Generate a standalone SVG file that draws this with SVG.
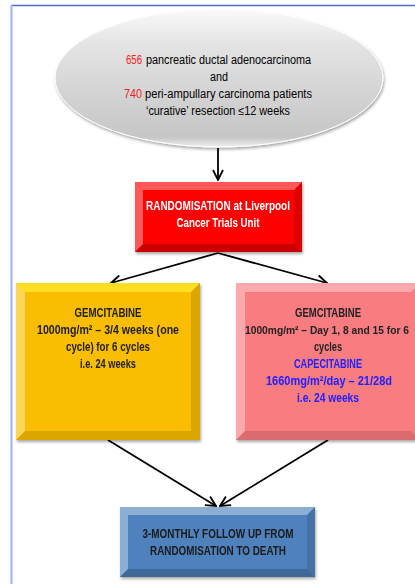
<svg xmlns="http://www.w3.org/2000/svg" width="415" height="584" viewBox="0 0 415 584">
<defs>
<linearGradient id="ellG" x1="0" y1="0" x2="0" y2="1">
<stop offset="0" stop-color="#fafafa"/>
<stop offset="0.25" stop-color="#e4e4e4"/>
<stop offset="0.6" stop-color="#d4d4d4"/>
<stop offset="0.93" stop-color="#c6c6c6"/>
<stop offset="1" stop-color="#f0f0f0"/>
</linearGradient>
<filter id="sh" x="-10%" y="-10%" width="130%" height="130%">
<feGaussianBlur in="SourceAlpha" stdDeviation="1.5"/>
<feOffset dx="1" dy="2"/>
<feComponentTransfer><feFuncA type="linear" slope="0.35"/></feComponentTransfer>
<feMerge><feMergeNode/><feMergeNode in="SourceGraphic"/></feMerge>
</filter>
<marker id="ah" viewBox="0 0 12 12" refX="11" refY="6" markerWidth="12" markerHeight="12" markerUnits="userSpaceOnUse" orient="auto">
<path d="M1,1 L11,6 L1,11" fill="none" stroke="#000" stroke-width="1.8"/>
</marker>
</defs>
<style>
.t{font-family:"Liberation Sans",Arial,sans-serif;font-size:12px;text-anchor:middle}
.s{text-anchor:start}
.r{fill:#f01c1c}
.b{font-weight:bold}
.c{stroke:#000;stroke-width:1.8;fill:none;marker-end:url(#ah)}
.lt{fill:#fff;opacity:0.35}
.dk{fill:#000;opacity:0.12}
.dk2{fill:#000;opacity:0.2}
</style>
<rect width="415" height="584" fill="#fff"/>
<g id="frame">
<line x1="11" y1="5.5" x2="415" y2="5.5" stroke="#4a6bd0" stroke-width="1.5"/>
<line x1="11.5" y1="5" x2="11.5" y2="584" stroke="#9db2f2" stroke-width="2"/>
</g>
<g id="connectors">
<line class="c" x1="218" y1="148" x2="218" y2="180"/>
<line class="c" x1="218" y1="253" x2="111" y2="283"/>
<line class="c" x1="218" y1="253" x2="327" y2="283"/>
<line class="c" x1="108" y1="440" x2="216" y2="506"/>
<line class="c" x1="328" y1="440" x2="220" y2="506"/>
</g>
<g id="n_patients">
<ellipse cx="219" cy="78" rx="164" ry="69" fill="url(#ellG)" stroke="#ffffff" stroke-width="1" filter="url(#sh)"/>
<text class="t s r" x="126" y="64" textLength="16" lengthAdjust="spacingAndGlyphs">656</text>
<text class="t s" x="146" y="64" textLength="165" lengthAdjust="spacingAndGlyphs">pancreatic ductal adenocarcinoma</text>
<text class="t" x="219" y="81" textLength="18" lengthAdjust="spacingAndGlyphs">and</text>
<text class="t s r" x="124" y="98" textLength="18" lengthAdjust="spacingAndGlyphs">740</text>
<text class="t s" x="145" y="98" textLength="167" lengthAdjust="spacingAndGlyphs">peri-ampullary carcinoma patients</text>
<text class="t" x="218" y="115" textLength="144" lengthAdjust="spacingAndGlyphs">‘curative’ resection ≤12 weeks</text>
</g>
<g id="n_random" filter="url(#sh)">
<rect x="135" y="182" width="167" height="70" fill="#fe0000"/>
<polygon class="lt" points="135,182 302,182 294,190 143,190"/>
<polygon class="lt" points="135,182 143,190 143,244 135,252"/>
<polygon class="dk" points="302,182 302,252 294,244 294,190"/>
<polygon class="dk2" points="135,252 302,252 294,244 143,244"/>
<text class="t b" x="218" y="210" fill="#fff" textLength="144" lengthAdjust="spacingAndGlyphs">RANDOMISATION at Liverpool</text>
<text class="t b" x="218" y="227" fill="#fff" textLength="83" lengthAdjust="spacingAndGlyphs">Cancer Trials Unit</text>
</g>
<g id="n_gem" filter="url(#sh)">
<rect x="16" y="283" width="184" height="157" fill="#fbbd00"/>
<polygon fill="#ffe62a" opacity="0.8" points="16,283 200,283 191,292 25,292"/>
<polygon class="lt" points="16,283 25,292 25,431 16,440"/>
<polygon class="dk" points="200,283 200,440 191,431 191,292"/>
<polygon class="dk" points="16,440 200,440 191,431 25,431"/>
<text class="t b" x="108" y="317" fill="#222" textLength="67" lengthAdjust="spacingAndGlyphs">GEMCITABINE</text>
<text class="t b" x="108" y="334" fill="#222" textLength="142" lengthAdjust="spacingAndGlyphs">1000mg/m² – 3/4 weeks (one</text>
<text class="t b" x="108" y="351" fill="#222" textLength="84" lengthAdjust="spacingAndGlyphs">cycle) for 6 cycles</text>
<text class="t b" x="108" y="368" fill="#222" textLength="56" lengthAdjust="spacingAndGlyphs">i.e. 24 weeks</text>
</g>
<g id="n_gemcap" filter="url(#sh)">
<rect x="236" y="283" width="184" height="157" fill="#f97b80"/>
<polygon class="lt" points="236,283 420,283 411,292 245,292"/>
<polygon class="lt" points="236,283 245,292 245,431 236,440"/>
<polygon class="dk" points="236,440 420,440 411,431 245,431"/>
<text class="t b" x="328" y="317" fill="#222" textLength="66" lengthAdjust="spacingAndGlyphs">GEMCITABINE</text>
<text class="t b" x="327" y="334" fill="#222" font-size="10.5" style="font-size:10.5px" textLength="164" lengthAdjust="spacingAndGlyphs">1000mg/m² – Day 1, 8 and 15 for 6</text>
<text class="t b" x="328" y="351" fill="#222" textLength="28" lengthAdjust="spacingAndGlyphs">cycles</text>
<text class="t b" x="328" y="368" fill="#2020ff" textLength="68" lengthAdjust="spacingAndGlyphs">CAPECITABINE</text>
<text class="t b" x="329" y="385" fill="#2020ff" textLength="126" lengthAdjust="spacingAndGlyphs">1660mg/m²/day – 21/28d</text>
<text class="t b" x="328" y="402" fill="#2020ff" textLength="62" lengthAdjust="spacingAndGlyphs">i.e. 24 weeks</text>
</g>
<g id="n_follow" filter="url(#sh)">
<rect x="120" y="507" width="195" height="70" fill="#4f81bd"/>
<polygon class="lt" points="120,507 315,507 307,515 128,515"/>
<polygon class="lt" points="120,507 128,515 128,569 120,577"/>
<polygon class="dk" points="315,507 315,577 307,569 307,515"/>
<polygon class="dk2" points="120,577 315,577 307,569 128,569"/>
<text class="t b" x="218" y="538" fill="#1a1a1a" textLength="151" lengthAdjust="spacingAndGlyphs">3-MONTHLY FOLLOW UP FROM</text>
<text class="t b" x="218" y="555" fill="#1a1a1a" textLength="136" lengthAdjust="spacingAndGlyphs">RANDOMISATION TO DEATH</text>
</g>
</svg>
